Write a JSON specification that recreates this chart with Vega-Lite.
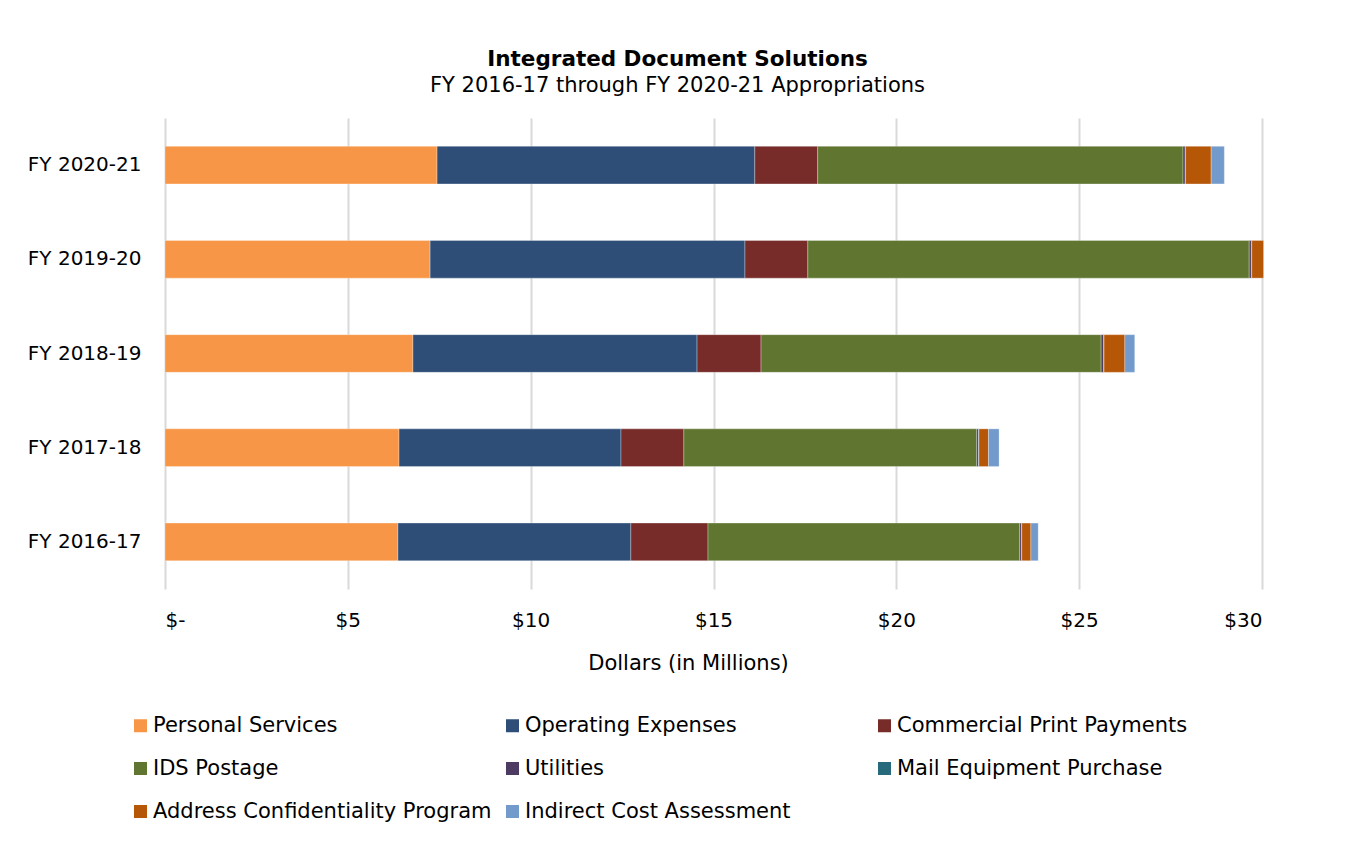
{
  "$schema": "https://vega.github.io/schema/vega-lite/v6.json",
  "autosize": "none",
  "width": 1097,
  "height": 471,
  "padding": {"left": 165, "top": 118, "right": 97, "bottom": 255},
  "background": "white",
  "title": {
    "text": "Integrated Document Solutions",
    "subtitle": "FY 2016-17 through FY 2020-21 Appropriations",
    "anchor": "middle",
    "dx": -36,
    "offset": 22,
    "font": "DejaVu Sans",
    "fontSize": 21.5,
    "fontWeight": "bold",
    "color": "#000000",
    "subtitleFont": "DejaVu Sans",
    "subtitleFontSize": 21,
    "subtitleColor": "#000000",
    "subtitlePadding": 5
  },
  "data": {
    "values": [
      {"fy": "FY 2020-21", "cat": "Personal Services", "o": 1, "v": 7.44},
      {"fy": "FY 2020-21", "cat": "Operating Expenses", "o": 2, "v": 8.69},
      {"fy": "FY 2020-21", "cat": "Commercial Print Payments", "o": 3, "v": 1.72},
      {"fy": "FY 2020-21", "cat": "IDS Postage", "o": 4, "v": 9.99},
      {"fy": "FY 2020-21", "cat": "Utilities", "o": 5, "v": 0.06},
      {"fy": "FY 2020-21", "cat": "Mail Equipment Purchase", "o": 6, "v": 0.01},
      {"fy": "FY 2020-21", "cat": "Address Confidentiality Program", "o": 7, "v": 0.70},
      {"fy": "FY 2020-21", "cat": "Indirect Cost Assessment", "o": 8, "v": 0.36},
      {"fy": "FY 2019-20", "cat": "Personal Services", "o": 1, "v": 7.25},
      {"fy": "FY 2019-20", "cat": "Operating Expenses", "o": 2, "v": 8.61},
      {"fy": "FY 2019-20", "cat": "Commercial Print Payments", "o": 3, "v": 1.72},
      {"fy": "FY 2019-20", "cat": "IDS Postage", "o": 4, "v": 12.07},
      {"fy": "FY 2019-20", "cat": "Utilities", "o": 5, "v": 0.06},
      {"fy": "FY 2019-20", "cat": "Mail Equipment Purchase", "o": 6, "v": 0.01},
      {"fy": "FY 2019-20", "cat": "Address Confidentiality Program", "o": 7, "v": 0.33},
      {"fy": "FY 2019-20", "cat": "Indirect Cost Assessment", "o": 8, "v": 0},
      {"fy": "FY 2018-19", "cat": "Personal Services", "o": 1, "v": 6.78},
      {"fy": "FY 2018-19", "cat": "Operating Expenses", "o": 2, "v": 7.77},
      {"fy": "FY 2018-19", "cat": "Commercial Print Payments", "o": 3, "v": 1.75},
      {"fy": "FY 2018-19", "cat": "IDS Postage", "o": 4, "v": 9.30},
      {"fy": "FY 2018-19", "cat": "Utilities", "o": 5, "v": 0.07},
      {"fy": "FY 2018-19", "cat": "Mail Equipment Purchase", "o": 6, "v": 0.01},
      {"fy": "FY 2018-19", "cat": "Address Confidentiality Program", "o": 7, "v": 0.57},
      {"fy": "FY 2018-19", "cat": "Indirect Cost Assessment", "o": 8, "v": 0.27},
      {"fy": "FY 2017-18", "cat": "Personal Services", "o": 1, "v": 6.40},
      {"fy": "FY 2017-18", "cat": "Operating Expenses", "o": 2, "v": 6.07},
      {"fy": "FY 2017-18", "cat": "Commercial Print Payments", "o": 3, "v": 1.72},
      {"fy": "FY 2017-18", "cat": "IDS Postage", "o": 4, "v": 8.01},
      {"fy": "FY 2017-18", "cat": "Utilities", "o": 5, "v": 0.05},
      {"fy": "FY 2017-18", "cat": "Mail Equipment Purchase", "o": 6, "v": 0.01},
      {"fy": "FY 2017-18", "cat": "Address Confidentiality Program", "o": 7, "v": 0.26},
      {"fy": "FY 2017-18", "cat": "Indirect Cost Assessment", "o": 8, "v": 0.29},
      {"fy": "FY 2016-17", "cat": "Personal Services", "o": 1, "v": 6.37},
      {"fy": "FY 2016-17", "cat": "Operating Expenses", "o": 2, "v": 6.37},
      {"fy": "FY 2016-17", "cat": "Commercial Print Payments", "o": 3, "v": 2.11},
      {"fy": "FY 2016-17", "cat": "IDS Postage", "o": 4, "v": 8.52},
      {"fy": "FY 2016-17", "cat": "Utilities", "o": 5, "v": 0.05},
      {"fy": "FY 2016-17", "cat": "Mail Equipment Purchase", "o": 6, "v": 0.01},
      {"fy": "FY 2016-17", "cat": "Address Confidentiality Program", "o": 7, "v": 0.25},
      {"fy": "FY 2016-17", "cat": "Indirect Cost Assessment", "o": 8, "v": 0.20}
    ]
  },
  "mark": {"type": "bar", "stroke": "white", "strokeWidth": 0.5, "strokeOpacity": 0.6},
  "encoding": {
    "y": {
      "field": "fy",
      "type": "nominal",
      "sort": ["FY 2020-21", "FY 2019-20", "FY 2018-19", "FY 2017-18", "FY 2016-17"],
      "scale": {"paddingInner": 0.6, "paddingOuter": 0.3},
      "axis": {
        "title": null,
        "domain": false,
        "ticks": false,
        "labelPadding": 24,
        "labelFont": "DejaVu Sans",
        "labelFontSize": 20,
        "labelColor": "#000000"
      }
    },
    "x": {
      "field": "v",
      "type": "quantitative",
      "stack": "zero",
      "scale": {"domain": [0, 30], "nice": false},
      "axis": {
        "values": [0, 5, 10, 15, 20, 25, 30],
        "labelExpr": "datum.value == 0 ? '$-' : '$' + datum.value",
        "title": "Dollars (in Millions)",
        "titleFont": "DejaVu Sans",
        "titleFontSize": 21,
        "titleFontWeight": "normal",
        "titleColor": "#000000",
        "titlePadding": 22,
        "titleX": 523,
        "domain": false,
        "ticks": false,
        "grid": true,
        "gridColor": "#D9D9D9",
        "gridWidth": 2,
        "labelPadding": 21,
        "labelFont": "DejaVu Sans",
        "labelFontSize": 20,
        "labelColor": "#000000"
      }
    },
    "color": {
      "field": "cat",
      "type": "nominal",
      "scale": {
        "domain": ["Personal Services", "Operating Expenses", "Commercial Print Payments", "IDS Postage", "Utilities", "Mail Equipment Purchase", "Address Confidentiality Program", "Indirect Cost Assessment"],
        "range": ["#F79646", "#2E4E78", "#772C2A", "#5F7530", "#4D3B62", "#276A7C", "#B65708", "#729ACA"]
      },
      "legend": {
        "title": null,
        "orient": "none",
        "direction": "horizontal",
        "legendX": -35,
        "legendY": 597,
        "columns": 3,
        "gridAlign": "all",
        "columnPadding": 10,
        "rowPadding": 21,
        "symbolType": "square",
        "symbolSize": 169,
        "symbolStrokeWidth": 0,
        "symbolOpacity": 1,
        "labelOffset": 2,
        "labelFont": "DejaVu Sans",
        "labelFontSize": 21,
        "labelColor": "#000000",
        "labelLimit": 500
      }
    },
    "order": {"field": "o", "type": "quantitative"}
  },
  "config": {
    "view": {"stroke": null}
  }
}
